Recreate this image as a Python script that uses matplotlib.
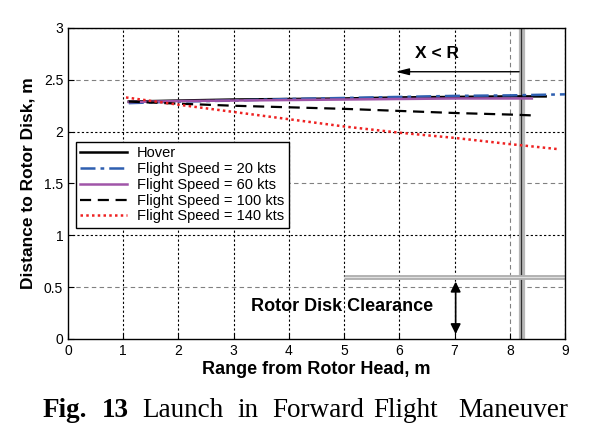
import matplotlib
matplotlib.use("Agg")
import matplotlib.pyplot as plt
import numpy as np

# Data
x_hover = [1.1, 2, 3, 4, 5, 6, 7, 8, 8.65]
y_hover = [2.29, 2.30, 2.31, 2.315, 2.32, 2.33, 2.335, 2.34, 2.34]
x_20 = [1.1, 2, 3, 4, 5, 6, 7, 8, 9]
y_20 = [2.275, 2.29, 2.30, 2.315, 2.325, 2.335, 2.345, 2.35, 2.36]
x_60 = [1.1, 2, 3, 4, 5, 6, 7, 8, 8.4]
y_60 = [2.285, 2.295, 2.30, 2.305, 2.31, 2.315, 2.32, 2.32, 2.32]
x_100 = [1.1, 2, 3, 4, 5, 6, 7, 8, 8.5]
y_100 = [2.29, 2.27, 2.25, 2.235, 2.22, 2.20, 2.18, 2.165, 2.155]
x_140 = [1.05, 2, 3, 4, 5, 6, 7, 8, 8.9]
y_140 = [2.33, 2.26, 2.19, 2.12, 2.05, 1.99, 1.94, 1.88, 1.83]
labels = ["Hover", "Flight Speed = 20 kts", "Flight Speed = 60 kts",
          "Flight Speed = 100 kts", "Flight Speed = 140 kts"]
xticks = list(range(0, 10))
yticks = [0, 0.5, 1, 1.5, 2, 2.5, 3]
ytick_labels = ["0", "0.5", "1", "1.5", "2", "2.5", "3"]
r_limit = 8.22
clear_y = 0.6

plt.rcParams['font.family'] = ['Liberation Sans', 'DejaVu Sans']

fig = plt.figure(figsize=(6.04, 4.28), dpi=100)
ax = fig.add_axes([0.1126, 0.208, 0.8228, 0.7266])
ax.set_xlim(0, 9)
ax.set_ylim(0, 3)

# grid lines
for xv in xticks[1:]:
    if xv == 8:
        ax.axvline(xv, color='#808080', lw=0.8, ls=(0, (4, 3)), zorder=0)
    else:
        ax.axvline(xv, color='black', lw=0.8, ls=(0, (2, 2)), zorder=0)
for yv in yticks[1:]:
    if yv % 1 == 0.5:
        ax.axhline(yv, color='#808080', lw=0.8, ls=(0, (4, 3)), zorder=0)
    else:
        ax.axhline(yv, color='black', lw=0.8, ls=(0, (2, 2)), zorder=0)

# clearance bars
ax.plot([r_limit, r_limit], [0, 3], color='#b8b8b8', lw=4.5, zorder=1, solid_capstyle='butt')
ax.plot([r_limit - 0.01, r_limit - 0.01], [0, 3], color='#303030', lw=0.9, zorder=1)
ax.plot([5, 9], [clear_y, clear_y], color='#b0b0b0', lw=3.5, zorder=1, solid_capstyle='butt')
ax.plot([5, 9], [clear_y, clear_y], color='#e0e0e0', lw=0.8, zorder=1)

# series
ax.plot(x_hover, y_hover, color='black', lw=1.8, ls='-', label=labels[0], zorder=3)
ax.plot(x_20, y_20, color='#2e5fb0', lw=1.8, ls=(0, (6, 2, 1.5, 2)), label=labels[1], zorder=3)
ax.plot(x_60, y_60, color='#a055a8', lw=1.8, ls='-', label=labels[2], zorder=3)
ax.plot(x_100, y_100, color='black', lw=1.6, ls=(0, (5, 3)), label=labels[3], zorder=3)
ax.plot(x_140, y_140, color='#ee2222', lw=1.8, ls=(0, (1, 1.3)), label=labels[4], zorder=3)

# annotations
ax.annotate('', xy=(5.88, 2.578), xytext=(r_limit, 2.578),
            arrowprops=dict(arrowstyle='-|>,head_length=0.8,head_width=0.2', color='black', lw=1.0))
ax.text(6.69, 2.75, 'X < R', fontsize=12.5, fontweight='bold', ha='center', va='center')
ax.annotate('', xy=(7.02, 0.58), xytext=(7.02, 0.02),
            arrowprops=dict(arrowstyle='<|-|>,head_length=0.6,head_width=0.3', color='black', lw=1.2))
ax.text(4.97, 0.31, 'Rotor Disk Clearance', fontsize=13, fontweight='bold', ha='center', va='center')

ax.set_xticks(xticks)
ax.set_yticks(yticks)
ax.set_yticklabels(ytick_labels)
ax.tick_params(direction='in', length=4, labelsize=10, width=0.8)
for s in ax.spines.values():
    s.set_linewidth(1.0)

ax.set_xlabel('Range from Rotor Head, m', fontsize=13, fontweight='bold', labelpad=2)
ax.set_ylabel('Distance to Rotor Disk, m', fontsize=12.5, fontweight='bold', labelpad=6)

leg = ax.legend(loc='upper left', bbox_to_anchor=(0.016, 0.633), fontsize=10.5,
                frameon=True, fancybox=False, edgecolor='black', framealpha=1,
                handlelength=3.2, labelspacing=0.12, borderpad=0.3, handletextpad=0.7,
                borderaxespad=0)
leg.get_frame().set_linewidth(1.0)

# caption with justified word spacing
words = [("Fig.", 43, 'bold'), ("13", 102, 'bold'), ("Launch", 142, 'normal'),
         ("in", 237, 'normal'), ("Forward", 272, 'normal'), ("Flight", 373, 'normal'),
         ("Maneuver", 458, 'normal')]
for w, px, wt in words:
    fig.text(px / 604, 1 - 417 / 428, w, fontsize=19.5, fontweight=wt,
             family='Liberation Serif', ha='left', va='baseline')

fig.savefig('out.png', dpi=100)
